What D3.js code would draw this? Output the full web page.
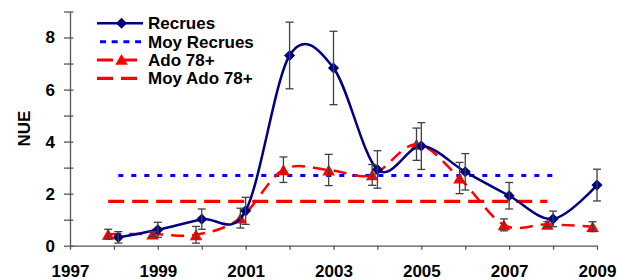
<!DOCTYPE html>
<html lang="fr">
	<head>
		<meta charset="utf-8">
		<title>NUE Recrues / Ado 78+</title>
		<script type="text/javascript" src="https://cdn.jsdelivr.net/npm/d3@7"></script>
		<style type="text/css">
			body { margin: 0; background: white; }
			text {
				font-family: "Liberation Sans", Arial, sans-serif;
				font-weight: bold;
				font-size: 17px;
				fill: black;
			}
			.axis path, .axis line { stroke: #555; stroke-width: 1.3; }
		</style>
	</head>
	<body>
		<div id="chart"></div>
		<script type="text/javascript">
			//Data
			var recYears  = [1998.1, 1999, 2000, 2001, 2002, 2003, 2004, 2005, 2006, 2007, 2008, 2009];
			var recValues = [0.32, 0.61, 1.02, 1.34, 7.31, 6.83, 2.93, 3.83, 2.84, 1.92, 1.03, 2.33];
			var recErrors = [0.22, 0.29, 0.39, 0.52, 1.28, 1.41, 0.72, 0.9, 0.7, 0.51, 0.3, 0.61];

			var adoYears  = [1997.87, 1998.88, 1999.87, 2000.88, 2001.86, 2002.89, 2003.88, 2004.89, 2005.87, 2006.88, 2007.87, 2008.9];
			var adoValues = [0.44, 0.45, 0.42, 1.06, 2.92, 2.91, 2.72, 3.9, 2.6, 0.8, 0.82, 0.73];
			var adoErrors = [0.19, 0.1, 0.32, 0.38, 0.49, 0.6, 0.4, 0.62, 0.6, 0.23, 0.1, 0.19];

			var moyRecValue = 2.7;
			var moyRecSpan  = [1998.1, 2008];
			var moyAdoValue = 1.7;
			var moyAdoSpan  = [1997.87, 2007.87];

			var xTicks = [1997, 1998, 1999, 2000, 2001, 2002, 2003, 2004, 2005, 2006, 2007, 2008, 2009];
			var xTickLabels = [1997, 1999, 2001, 2003, 2005, 2007, 2009];
			var yTicks = [0, 1, 2, 3, 4, 5, 6, 7, 8, 9];
			var yTickLabels = [0, 2, 4, 6, 8];

			var legendLabels = ["Recrues", "Moy Recrues", "Ado 78+", "Moy Ado 78+"];

			//Setup
			var w = 617;
			var h = 280;

			var svg = d3.select("#chart")
				.append("svg")
				.attr("width", w)
				.attr("height", h);

			var x = d3.scaleLinear().domain([1997, 2009]).range([70, 597]);
			var y = d3.scaleLinear().domain([0, 9]).range([245.7, 11.5]);

			var navy = "#000080";
			var red = "#FF0000";
			var blue = "#0000FF";

			//Axes
			var xAxis = svg.append("g")
				.attr("class", "axis")
				.attr("transform", "translate(0," + y(0) + ")")
				.call(d3.axisBottom(x)
					.tickValues(xTicks)
					.tickSize(4)
					.tickSizeOuter(0)
					.tickPadding(15.5)
					.tickFormat(function(d) { return xTickLabels.indexOf(d) >= 0 ? d : ""; }));

			var yAxis = svg.append("g")
				.attr("class", "axis")
				.attr("transform", "translate(" + x(1997) + ",0)")
				.call(d3.axisLeft(y)
					.tickValues(yTicks)
					.tickSize(6)
					.tickSizeOuter(0)
					.tickPadding(9)
					.tickFormat(function(d) { return yTickLabels.indexOf(d) >= 0 ? d : ""; }));

			//ticks cross the y axis
			yAxis.selectAll(".tick line").attr("x1", 3.5);
			svg.selectAll(".axis text")
				.style("font-family", "'Liberation Sans', Arial, sans-serif")
				.style("font-size", "17px")
				.style("font-weight", "bold")
				.attr("fill", "black");

			svg.append("text")
				.attr("transform", "translate(30," + ((y(0) + y(9)) / 2) + ") rotate(-90)")
				.attr("text-anchor", "middle")
				.text("NUE");

			//Lines
			var line = d3.line()
				.x(function(d) { return x(d[0]); })
				.y(function(d) { return y(d[1]); })
				.curve(d3.curveCardinal.tension(0));

			var adoData = adoYears.map(function(d, i) { return [d, adoValues[i], adoErrors[i]]; });
			var recData = recYears.map(function(d, i) { return [d, recValues[i], recErrors[i]]; });

			svg.append("line")
				.attr("x1", x(moyRecSpan[0])).attr("x2", x(moyRecSpan[1]))
				.attr("y1", y(moyRecValue)).attr("y2", y(moyRecValue))
				.style("stroke", blue)
				.style("stroke-width", 3)
				.style("stroke-dasharray", "5,8");

			svg.append("line")
				.attr("x1", x(moyAdoSpan[0])).attr("x2", x(moyAdoSpan[1]))
				.attr("y1", y(moyAdoValue)).attr("y2", y(moyAdoValue))
				.style("stroke", red)
				.style("stroke-width", 3.3)
				.style("stroke-dasharray", "16,8");

			svg.append("path")
				.datum(adoData)
				.attr("d", line)
				.style("fill", "none")
				.style("stroke", red)
				.style("stroke-width", 2.5)
				.style("stroke-dasharray", "13,8");

			var triangle = d3.symbol().type(d3.symbolTriangle).size(68);
			var diamond = d3.symbol().type(d3.symbolSquare).size(62);

			svg.selectAll(".tri")
				.data(adoData)
				.enter()
				.append("path")
				.attr("class", "tri")
				.attr("d", triangle)
				.attr("transform", function(d) { return "translate(" + x(d[0]) + "," + (y(d[1]) + 1.8) + ")"; })
				.style("fill", red);

			svg.append("path")
				.datum(recData)
				.attr("d", line)
				.style("fill", "none")
				.style("stroke", navy)
				.style("stroke-width", 2.5);

			svg.selectAll(".dia")
				.data(recData)
				.enter()
				.append("path")
				.attr("class", "dia")
				.attr("d", diamond)
				.attr("transform", function(d) { return "translate(" + x(d[0]) + "," + y(d[1]) + ") rotate(45)"; })
				.style("fill", navy);

			//Error bars
			var bars = svg.selectAll(".err")
				.data(adoData.concat(recData))
				.enter()
				.append("g")
				.attr("class", "err")
				.style("stroke", "#404040")
				.style("stroke-width", 1.3);

			bars.append("line")
				.attr("x1", function(d) { return x(d[0]); })
				.attr("x2", function(d) { return x(d[0]); })
				.attr("y1", function(d) { return y(d[1] + d[2]); })
				.attr("y2", function(d) { return y(d[1] - d[2]); });

			bars.append("line")
				.attr("x1", function(d) { return x(d[0]) - 4; })
				.attr("x2", function(d) { return x(d[0]) + 4; })
				.attr("y1", function(d) { return y(d[1] + d[2]); })
				.attr("y2", function(d) { return y(d[1] + d[2]); });

			bars.append("line")
				.attr("x1", function(d) { return x(d[0]) - 4; })
				.attr("x2", function(d) { return x(d[0]) + 4; })
				.attr("y1", function(d) { return y(d[1] - d[2]); })
				.attr("y2", function(d) { return y(d[1] - d[2]); });

			//Legend
			var legend = svg.append("g");
			var rowY = [23.3, 41.7, 60, 78.3];

			legend.append("line")
				.attr("x1", 97).attr("x2", 143).attr("y1", rowY[0]).attr("y2", rowY[0])
				.style("stroke", navy).style("stroke-width", 2.5);
			legend.append("path")
				.attr("d", diamond)
				.attr("transform", "translate(121.5," + rowY[0] + ") rotate(45)")
				.style("fill", navy);

			legend.append("line")
				.attr("x1", 100).attr("x2", 142).attr("y1", rowY[1]).attr("y2", rowY[1])
				.style("stroke", blue).style("stroke-width", 3).style("stroke-dasharray", "6,5.7");

			legend.append("line")
				.attr("x1", 97).attr("x2", 138).attr("y1", rowY[2]).attr("y2", rowY[2])
				.style("stroke", red).style("stroke-width", 3).style("stroke-dasharray", "16,8");
			legend.append("path")
				.attr("d", triangle)
				.attr("transform", "translate(121.5," + (rowY[2] + 1.2) + ")")
				.style("fill", red);

			legend.append("line")
				.attr("x1", 97).attr("x2", 138).attr("y1", rowY[3]).attr("y2", rowY[3])
				.style("stroke", red).style("stroke-width", 3.3).style("stroke-dasharray", "16,8");

			legend.selectAll("text")
				.data(legendLabels)
				.enter()
				.append("text")
				.attr("x", 148)
				.attr("y", function(d, i) { return rowY[i]; })
				.attr("dy", "0.36em")
				.text(function(d) { return d; });
		</script>
	</body>
</html>
